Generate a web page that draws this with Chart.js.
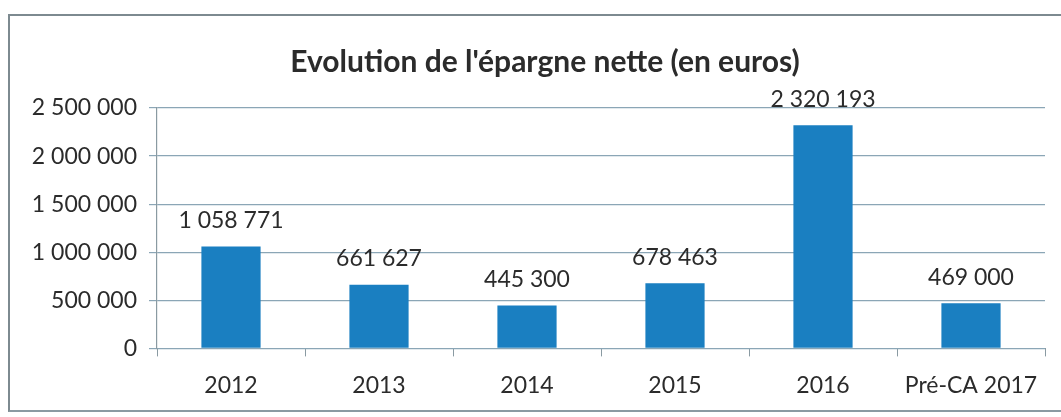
<!DOCTYPE html>
<html>
<head>
<meta charset="utf-8">
<script src="https://cdn.jsdelivr.net/npm/chart.js@4/dist/chart.umd.min.js"></script>
<style>
  html, body { margin: 0; padding: 0; background: #fff; }
  #frame {
    position: absolute; left: 8px; top: 14px; width: 1060px; height: 394px;
    border-left: 2px solid #7d8a90; border-top: 2px solid #7d8a90; border-bottom: 2px solid #8a9aa2;
  }
  #wrap { position: absolute; left: 0; top: 0; width: 1061px; height: 417px; }
</style>
</head>
<body>
<div id="frame"></div>
<div id="wrap"><canvas id="chart" width="1061" height="417"></canvas></div>
<script>
// === Data ===
const categories = ["2012", "2013", "2014", "2015", "2016", "Pré-CA 2017"];
const epargneNette = [1058771, 661627, 445300, 678463, 2320193, 469000];
const yTicks = [0, 500000, 1000000, 1500000, 2000000, 2500000];
const chartTitle = "Evolution de l'épargne nette (en euros)";

const fmt = v => String(v).replace(/\B(?=(\d{3})+(?!\d))/g, " ");
const FONT = "Lato, 'Open Sans', sans-serif";

// value labels above bars + title centred like the original frame
const valueLabels = {
  id: "valueLabels",
  afterDatasetsDraw(chart) {
    const ctx = chart.ctx;
    const meta = chart.getDatasetMeta(0);
    ctx.save();
    ctx.font = "23px " + FONT;
    ctx.fillStyle = "#2b2b2b";
    ctx.textAlign = "center";
    ctx.textBaseline = "middle";
    meta.data.forEach((bar, i) => {
      ctx.fillText(fmt(epargneNette[i]), bar.x, bar.y - 26);
    });
    ctx.font = "bold 30px " + FONT;
    ctx.fillText(chartTitle, 545, 62);
    ctx.restore();
  }
};

new Chart(document.getElementById("chart"), {
  type: "bar",
  data: {
    labels: categories,
    datasets: [{
      data: epargneNette,
      backgroundColor: "#1a7fc1",
      barPercentage: 0.4,
      categoryPercentage: 1
    }]
  },
  options: {
    responsive: false,
    animation: false,
    devicePixelRatio: 1,
    layout: { padding: { left: 0, right: 16, top: 108, bottom: 3 } },
    plugins: {
      legend: { display: false },
      tooltip: { enabled: false },
      title: { display: false }
    },
    scales: {
      x: {
        grid: { drawOnChartArea: false, drawTicks: true, tickLength: 8, color: "#8a9aa2" },
        border: { display: false },
        ticks: { color: "#2b2b2b", padding: 15, font: { family: FONT, size: 23 } }
      },
      y: {
        min: 0,
        max: 2500000,
        afterBuildTicks: scale => { scale.ticks = yTicks.map(v => ({ value: v })); },
        afterFit: scale => { scale.width = 157; },
        grid: { color: "#8ba6b6", tickLength: 8, lineWidth: 1.2 },
        border: { display: true, color: "#8a9aa2", width: 1.2 },
        ticks: {
          color: "#2b2b2b",
          padding: 12,
          font: { family: FONT, size: 23 },
          callback: v => fmt(v)
        }
      }
    }
  },
  plugins: [valueLabels]
});
</script>
</body>
</html>
